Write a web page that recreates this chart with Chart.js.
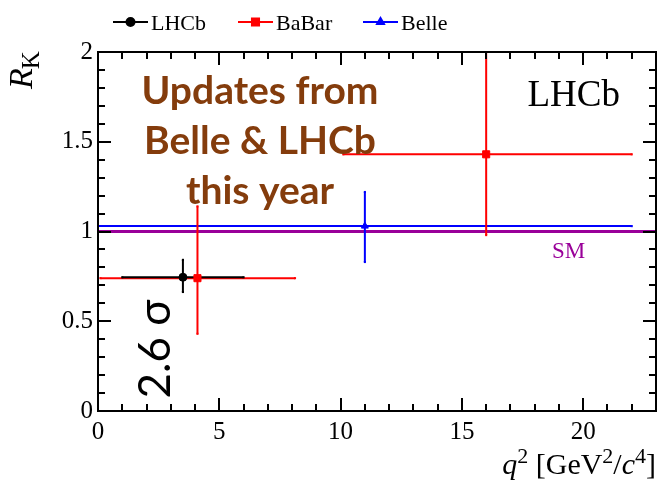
<!DOCTYPE html>
<html lang="en">
<head>
    <meta charset="UTF-8">
    <title>R_K vs q2</title>
    <script src="https://cdn.jsdelivr.net/npm/chart.js"></script>
    <style>
        html, body { margin: 0; padding: 0; background: #fff; }
        #wrap { width: 662px; height: 486px; }
    </style>
</head>
<body>
    <div id="wrap"><canvas id="chart" width="662" height="486"></canvas></div>

    <script>
        // experiments
        const series = ['LHCb', 'BaBar', 'Belle'];
        const seriesColors = ['#000000', '#ff0000', '#0000ff'];
        const seriesMarkers = ['circle', 'rect', 'triangle'];

        // LHCb
        const lhcbQ2 = [3.5];
        const lhcbQ2Lo = [1.0];
        const lhcbQ2Hi = [6.0];
        const lhcbRK = [0.745];
        const lhcbRKLo = [0.663];
        const lhcbRKHi = [0.842];

        // BaBar
        const babarQ2 = [4.1, 16.0];
        const babarQ2Lo = [0.1, 10.11];
        const babarQ2Hi = [8.12, 22.0];
        const babarRK = [0.74, 1.43];
        const babarRKLo = [0.43, 0.98];
        const babarRKHi = [1.14, 2.08];

        // Belle
        const belleQ2 = [11.0];
        const belleQ2Lo = [0.0];
        const belleQ2Hi = [22.0];
        const belleRK = [1.03];
        const belleRKLo = [0.83];
        const belleRKHi = [1.22];

        // standard model
        const smValue = 1.0;
        const q2Range = [0, 23];
        const rkRange = [0, 2];
        const xMajorTicks = [0, 5, 10, 15, 20];
        const yMajorTicks = [0, 0.5, 1, 1.5, 2];

        const SERIF = "'Liberation Serif'";
        const SANS = 'Lato';

        Chart.defaults.font.family = SERIF;

        // error bars as line segments separated by gaps
        function errorSegments(q2, q2Lo, q2Hi, rk, rkLo, rkHi) {
            const pts = [];
            q2.forEach((q, i) => {
                pts.push({x: q2Lo[i], y: rk[i]}, {x: q2Hi[i], y: rk[i]}, {x: q, y: null});
                pts.push({x: q, y: rkLo[i]}, {x: q, y: rkHi[i]}, {x: q, y: null});
            });
            return pts;
        }

        function points(q2, rk) {
            return q2.map((q, i) => ({x: q, y: rk[i]}));
        }

        const allData = [
            [lhcbQ2, lhcbQ2Lo, lhcbQ2Hi, lhcbRK, lhcbRKLo, lhcbRKHi],
            [babarQ2, babarQ2Lo, babarQ2Hi, babarRK, babarRKLo, babarRKHi],
            [belleQ2, belleQ2Lo, belleQ2Hi, belleRK, belleRKLo, belleRKHi]
        ];

        const datasets = [];
        allData.forEach((d, i) => {
            datasets.push({
                label: series[i],
                data: points(d[0], d[3]),
                pointStyle: seriesMarkers[i],
                pointRadius: i === 1 ? 5 : 4,
                backgroundColor: seriesColors[i],
                borderColor: seriesColors[i],
                borderWidth: 1,
                showLine: false
            });
        });
        allData.forEach((d, i) => {
            datasets.push({
                label: series[i] + ' err',
                data: errorSegments(...d),
                showLine: true,
                spanGaps: false,
                borderColor: seriesColors[i],
                backgroundColor: seriesColors[i],
                borderWidth: 2,
                pointStyle: 'rect',
                pointRadius: 1.5,
                pointBorderWidth: 0
            });
        });
        datasets.push({
            label: 'SM',
            data: [{x: q2Range[0], y: smValue}, {x: q2Range[1], y: smValue}],
            showLine: true,
            borderColor: '#990099',
            borderWidth: 3,
            pointRadius: 0
        });

        function isMajor(v, list) {
            return list.some(m => Math.abs(m - v) < 1e-6);
        }

        // frame, inward ticks and all the text
        const decorate = {
            id: 'decorate',
            afterDraw(chart) {
                const {ctx, chartArea: a, scales: {x, y}} = chart;
                ctx.save();
                ctx.strokeStyle = '#000';
                ctx.lineWidth = 2;
                ctx.strokeRect(a.left, a.top, a.right - a.left, a.bottom - a.top);

                ctx.beginPath();
                x.ticks.forEach(t => {
                    if (t.value <= q2Range[0] || t.value >= q2Range[1]) return;
                    const px = Math.round(x.getPixelForValue(t.value));
                    const len = isMajor(t.value, xMajorTicks) ? 13 : 7;
                    ctx.moveTo(px, a.bottom); ctx.lineTo(px, a.bottom - len);
                    ctx.moveTo(px, a.top); ctx.lineTo(px, a.top + len);
                });
                y.ticks.forEach(t => {
                    if (t.value <= rkRange[0] + 1e-6 || t.value >= rkRange[1] - 1e-6) return;
                    const py = Math.round(y.getPixelForValue(t.value));
                    const len = isMajor(t.value, yMajorTicks) ? 13 : 7;
                    ctx.moveTo(a.left, py); ctx.lineTo(a.left + len, py);
                    ctx.moveTo(a.right, py); ctx.lineTo(a.right - len, py);
                });
                ctx.stroke();

                // legend
                ctx.textAlign = 'left';
                ctx.textBaseline = 'alphabetic';
                const legX = [113, 238, 363];
                series.forEach((name, i) => {
                    const lx = legX[i], ly = 22;
                    ctx.strokeStyle = seriesColors[i];
                    ctx.lineWidth = 2;
                    ctx.beginPath();
                    ctx.moveTo(lx, ly); ctx.lineTo(lx + 35, ly);
                    ctx.stroke();
                    ctx.fillStyle = seriesColors[i];
                    Chart.helpers.drawPoint(ctx, {pointStyle: seriesMarkers[i], radius: i === 1 ? 5 : 4, borderWidth: 1}, lx + 17.5, ly);
                });
                ctx.fillStyle = '#000';
                ctx.font = '22px ' + SERIF;
                series.forEach((name, i) => {
                    ctx.fillText(name, legX[i] + 38, 30);
                });

                // experiment label
                ctx.font = '37px ' + SERIF;
                ctx.fillText('LHCb', x.getPixelForValue(17.7), y.getPixelForValue(1.7));

                // SM label
                ctx.fillStyle = '#990099';
                ctx.font = '23px ' + SERIF;
                ctx.textAlign = 'center';
                ctx.fillText('SM', x.getPixelForValue(19.4), y.getPixelForValue(0.855));

                // slide note
                ctx.fillStyle = '#843c0c';
                ctx.font = 'bold 39px ' + SANS;
                ['Updates from', 'Belle & LHCb', 'this year'].forEach((s, i) => {
                    ctx.fillText(s, 260, 104 + i * 50);
                });

                // significance
                ctx.save();
                ctx.translate(170, 349);
                ctx.rotate(-Math.PI / 2);
                ctx.fillStyle = '#000';
                ctx.font = '44px ' + SANS;
                ctx.textAlign = 'center';
                ctx.fillText('2.6 \u03c3', 0, 0);
                ctx.restore();

                // y title
                ctx.save();
                ctx.translate(32, 89);
                ctx.rotate(-Math.PI / 2);
                ctx.fillStyle = '#000';
                ctx.textAlign = 'left';
                ctx.font = 'italic 34px ' + SERIF;
                ctx.fillText('R', 0, 0);
                const rw = ctx.measureText('R').width;
                ctx.font = '25px ' + SERIF;
                ctx.fillText('K', rw - 1, 7);
                ctx.restore();

                // x title, right aligned
                const parts = [
                    ['italic 30px ' + SERIF, 'q', 0],
                    ['22px ' + SERIF, '2', -11],
                    ['30px ' + SERIF, ' [GeV', 0],
                    ['22px ' + SERIF, '2', -11],
                    ['30px ' + SERIF, '/', 0],
                    ['italic 30px ' + SERIF, 'c', 0],
                    ['22px ' + SERIF, '4', -11],
                    ['30px ' + SERIF, ']', 0]
                ];
                let total = 0;
                parts.forEach(p => { ctx.font = p[0]; total += ctx.measureText(p[1]).width; });
                let cx = a.right - total;
                ctx.textAlign = 'left';
                ctx.fillStyle = '#000';
                parts.forEach(p => {
                    ctx.font = p[0];
                    ctx.fillText(p[1], cx, 474 + p[2]);
                    cx += ctx.measureText(p[1]).width;
                });
                ctx.restore();
            }
        };

        new Chart(document.getElementById('chart'), {
            type: 'scatter',
            data: {datasets: datasets},
            options: {
                responsive: false,
                animation: false,
                events: [],
                layout: {padding: {left: 0, top: 52, right: 2, bottom: 0}},
                plugins: {legend: {display: false}, tooltip: {enabled: false}},
                scales: {
                    x: {
                        type: 'linear',
                        min: q2Range[0],
                        max: q2Range[1],
                        grid: {display: false, drawTicks: false},
                        border: {display: false},
                        ticks: {
                            stepSize: 1,
                            autoSkip: false,
                            maxRotation: 0,
                            padding: 6,
                            color: '#000',
                            font: {family: SERIF, size: 25},
                            callback: v => isMajor(v, xMajorTicks) ? String(v) : ''
                        },
                        afterFit: s => { s.height = 75; }
                    },
                    y: {
                        min: rkRange[0],
                        max: rkRange[1],
                        grid: {display: false, drawTicks: false},
                        border: {display: false},
                        ticks: {
                            stepSize: 0.1,
                            autoSkip: false,
                            padding: 5,
                            color: '#000',
                            font: {family: SERIF, size: 25},
                            callback: v => isMajor(v, yMajorTicks) ? String(Math.round(v * 10) / 10) : ''
                        },
                        afterFit: s => { s.width = 98; }
                    }
                }
            },
            plugins: [decorate]
        });
    </script>
</body>
</html>
